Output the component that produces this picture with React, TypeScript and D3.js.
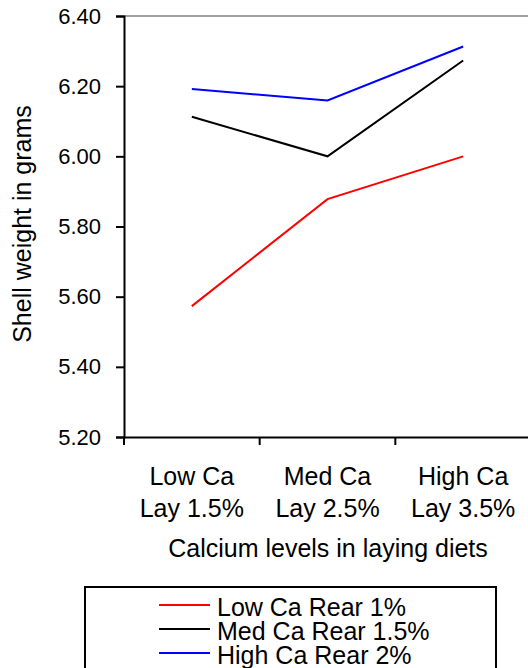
import React, { useEffect, useRef } from "react";
import * as d3 from "d3";

const categories = ["Low Ca|Lay 1.5%", "Med Ca|Lay 2.5%", "High Ca|Lay 3.5%"];
const seriesNames = ["Low Ca Rear 1%", "Med Ca Rear 1.5%", "High Ca Rear 2%"];
const seriesColors = ["#ff0000", "#000000", "#0000ff"];
const lowCaRear = [5.573, 5.878, 6.0];
const medCaRear = [6.113, 6.0, 6.273];
const highCaRear = [6.192, 6.159, 6.313];
const yTicks = [5.2, 5.4, 5.6, 5.8, 6.0, 6.2, 6.4];

const W = 528;
const H = 668;
const FONT = "'Liberation Sans', Arial, Helvetica, sans-serif";
const FS = 25;

export default function App() {
  const ref = useRef<SVGSVGElement>(null);

  useEffect(() => {
    const svg = d3.select(ref.current);
    svg.selectAll("*").remove();
    const left = 124, right = 531, top = 16, bottom = 437;
    const x = d3.scaleBand<string>().domain(categories).range([left, right]).padding(0);
    const y = d3.scaleLinear().domain([5.2, 6.4]).range([bottom, top]);
    const series = [lowCaRear, medCaRear, highCaRear];

    // plot border (top/right gray)
    svg.append("line").attr("x1", left).attr("x2", right).attr("y1", top).attr("y2", top)
      .attr("stroke", "#808080").attr("stroke-width", 1.5);
    svg.append("line").attr("x1", right).attr("x2", right).attr("y1", top).attr("y2", bottom)
      .attr("stroke", "#808080").attr("stroke-width", 1.5);

    // y axis
    const yAxis = svg.append("g").attr("transform", `translate(${left},0)`)
      .call(d3.axisLeft(y).tickValues(yTicks).tickFormat(d3.format(".2f")).tickSize(8).tickPadding(15));
    yAxis.select(".domain").attr("stroke", "#000").attr("stroke-width", 2);
    yAxis.selectAll(".tick line").attr("stroke", "#000").attr("stroke-width", 2);
    yAxis.selectAll(".tick text").attr("font-family", FONT).attr("font-size", 22).attr("fill", "#000");

    // x axis
    const xAxis = svg.append("g").attr("transform", `translate(0,${bottom})`)
      .call(d3.axisBottom(x).tickSize(0).tickFormat(() => ""));
    xAxis.select(".domain").attr("stroke", "#000").attr("stroke-width", 2);
    const boundaries = [left, ...categories.map((c) => (x(c) as number) + x.bandwidth())];
    svg.append("g").selectAll("line").data(boundaries).join("line")
      .attr("x1", (d) => d).attr("x2", (d) => d).attr("y1", bottom).attr("y2", bottom + 8)
      .attr("stroke", "#000").attr("stroke-width", 2);

    const labels = svg.append("g").attr("font-family", FONT).attr("font-size", FS).attr("text-anchor", "middle");
    categories.forEach((c) => {
      const cx = (x(c) as number) + x.bandwidth() / 2;
      const parts = c.split("|");
      labels.append("text").attr("x", cx).attr("y", 485).text(parts[0]);
      labels.append("text").attr("x", cx).attr("y", 517).text(parts[1]);
    });

    svg.append("text").attr("x", 328).attr("y", 557).attr("text-anchor", "middle")
      .attr("font-family", FONT).attr("font-size", FS).text("Calcium levels in laying diets");
    svg.append("text").attr("transform", `translate(31,224) rotate(-90)`).attr("text-anchor", "middle")
      .attr("font-family", FONT).attr("font-size", FS).text("Shell weight in grams");

    // lines
    const line = d3.line<number>()
      .x((_, i) => (x(categories[i]) as number) + x.bandwidth() / 2)
      .y((d) => y(d));
    series.forEach((s, i) => {
      svg.append("path").attr("d", line(s) as string).attr("fill", "none")
        .attr("stroke", seriesColors[i]).attr("stroke-width", 2);
    });

    // legend
    const lg = svg.append("g");
    lg.append("rect").attr("x", 85).attr("y", 587).attr("width", 411).attr("height", 120)
      .attr("fill", "#fff").attr("stroke", "#000").attr("stroke-width", 2);
    seriesNames.forEach((n, i) => {
      const yy = 605 + i * 24;
      lg.append("line").attr("x1", 159).attr("x2", 210).attr("y1", yy).attr("y2", yy)
        .attr("stroke", seriesColors[i]).attr("stroke-width", 2);
      lg.append("text").attr("x", 217).attr("y", yy + 11).attr("font-family", FONT)
        .attr("font-size", FS).text(n);
    });
  }, []);

  return (
    <svg ref={ref} width={W} height={H}
      style={{ position: "absolute", left: 0, top: 0, background: "#fff" }} />
  );
}
